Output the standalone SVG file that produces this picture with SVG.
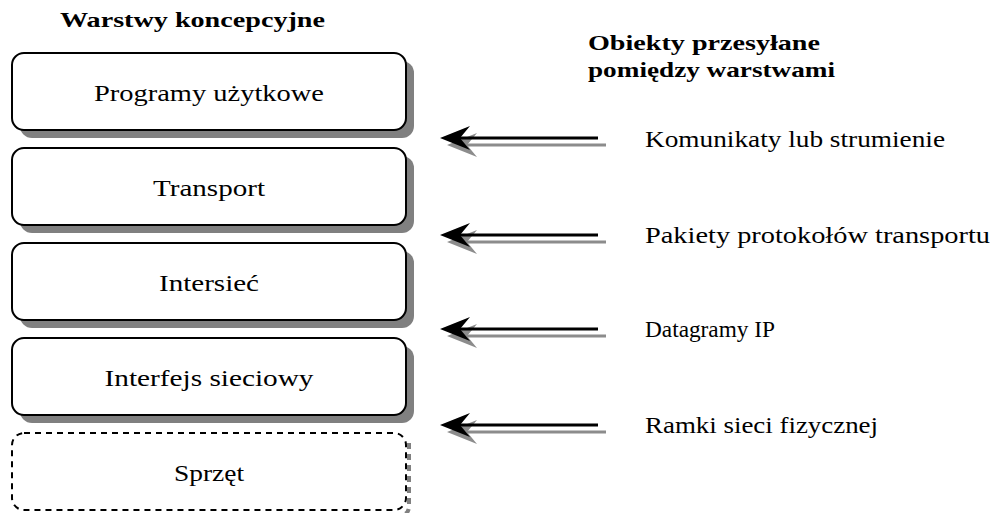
<svg xmlns="http://www.w3.org/2000/svg" width="994" height="513" viewBox="0 0 994 513">
  <defs>
    <style>
      .shadow { fill: #808080; stroke: none; }
      .box { fill: #ffffff; stroke: #000000; stroke-width: 2; }
      .dashed { stroke-dasharray: 6 5; }
      .shadow-dashed { fill: none; stroke: #808080; stroke-width: 4; stroke-dasharray: 6 5; }
      .label { font-family: "Liberation Serif", "DejaVu Serif", serif; font-size: 24px; fill: #000000; }
      .title { font-family: "Liberation Serif", "DejaVu Serif", serif; font-size: 21px; font-weight: bold; fill: #000000; }
      .shaft { stroke: #000000; stroke-width: 3; fill: none; }
      .shaft-shadow { stroke: #8c8c8c; stroke-width: 3; fill: none; }
      .head { fill: #000000; }
      .head-shadow { fill: #8c8c8c; }
    </style>
    <!-- one arrow pointing left, drawn with its grey drop shadow -->
    <g id="arrow">
      <path class="head-shadow" d="M447,7 L477,-5 L467,7 L477,19 Z"/>
      <line class="shaft-shadow" x1="460" y1="7" x2="606" y2="7"/>
      <path class="head" d="M440,0 L470,-12 L460,0 L470,12 Z"/>
      <line class="shaft" x1="452" y1="0" x2="598" y2="0"/>
    </g>
  </defs>

  <rect width="994" height="513" fill="#ffffff"/>

  <text class="title" x="60" y="27" textLength="265" lengthAdjust="spacingAndGlyphs">Warstwy koncepcyjne</text>
  <text class="title" x="588" y="50" textLength="232" lengthAdjust="spacingAndGlyphs">Obiekty przesyłane</text>
  <text class="title" x="588" y="77" textLength="247" lengthAdjust="spacingAndGlyphs">pomiędzy warstwami</text>

  <g id="layer-apps">
    <rect class="shadow" x="20" y="61" width="394" height="77" rx="12"/>
    <rect class="box" x="12" y="53" width="394" height="77" rx="12"/>
    <text class="label" x="209" y="101" text-anchor="middle" textLength="230" lengthAdjust="spacingAndGlyphs">Programy użytkowe</text>
  </g>
  <g id="layer-transport">
    <rect class="shadow" x="20" y="156" width="394" height="77" rx="12"/>
    <rect class="box" x="12" y="148" width="394" height="77" rx="12"/>
    <text class="label" x="209" y="196" text-anchor="middle" textLength="112" lengthAdjust="spacingAndGlyphs">Transport</text>
  </g>
  <g id="layer-internet">
    <rect class="shadow" x="20" y="251" width="394" height="77" rx="12"/>
    <rect class="box" x="12" y="243" width="394" height="77" rx="12"/>
    <text class="label" x="209" y="291" text-anchor="middle" textLength="100" lengthAdjust="spacingAndGlyphs">Intersieć</text>
  </g>
  <g id="layer-netif">
    <rect class="shadow" x="20" y="346" width="394" height="77" rx="12"/>
    <rect class="box" x="12" y="338" width="394" height="77" rx="12"/>
    <text class="label" x="209" y="386" text-anchor="middle" textLength="209" lengthAdjust="spacingAndGlyphs">Interfejs sieciowy</text>
  </g>
  <g id="layer-hardware">
    <path class="shadow-dashed" d="M409,443 L409,506 Q409,515 400,515 L30,515"/>
    <rect class="box dashed" x="12" y="433" width="394" height="77" rx="12"/>
    <text class="label" x="209" y="481" text-anchor="middle" textLength="70" lengthAdjust="spacingAndGlyphs">Sprzęt</text>
  </g>

  <g id="connectors">
    <use href="#arrow" y="138"/>
    <use href="#arrow" y="235"/>
    <use href="#arrow" y="329"/>
    <use href="#arrow" y="425"/>
  </g>

  <g id="object-labels">
    <text class="label" x="645" y="147" textLength="300" lengthAdjust="spacingAndGlyphs">Komunikaty lub strumienie</text>
    <text class="label" x="645" y="243" textLength="345" lengthAdjust="spacingAndGlyphs">Pakiety protokołów transportu</text>
    <text class="label" x="645" y="337" textLength="130" lengthAdjust="spacingAndGlyphs">Datagramy IP</text>
    <text class="label" x="645" y="433" textLength="233" lengthAdjust="spacingAndGlyphs">Ramki sieci fizycznej</text>
  </g>
</svg>
